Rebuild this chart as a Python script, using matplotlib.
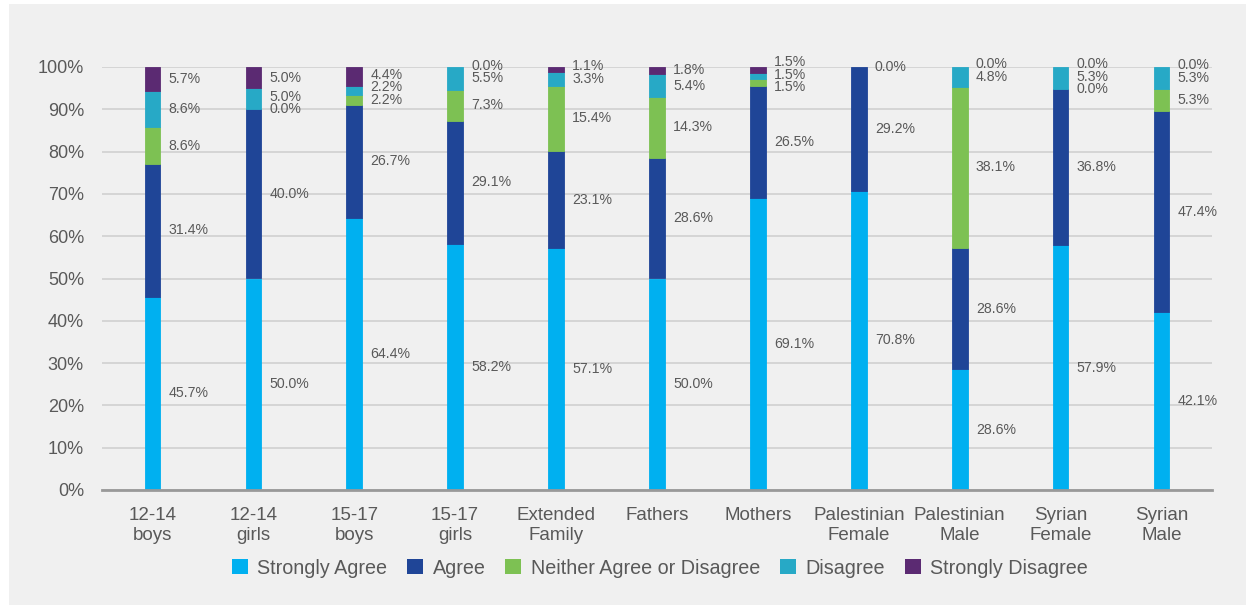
import matplotlib
matplotlib.use("Agg")
import matplotlib.pyplot as plt
from matplotlib.patches import Rectangle, Patch
import numpy as np

groups = ["12-14\nboys", "12-14\ngirls", "15-17\nboys", "15-17\ngirls", "Extended\nFamily",
          "Fathers", "Mothers", "Palestinian\nFemale", "Palestinian\nMale", "Syrian\nFemale",
          "Syrian\nMale"]
series = ["Strongly Agree", "Agree", "Neither Agree or Disagree", "Disagree", "Strongly Disagree"]
strongly_agree = [45.7, 50.0, 64.4, 58.2, 57.1, 50.0, 69.1, 70.8, 28.6, 57.9, 42.1]
agree = [31.4, 40.0, 26.7, 29.1, 23.1, 28.6, 26.5, 29.2, 28.6, 36.8, 47.4]
neither = [8.6, 0.0, 2.2, 7.3, 15.4, 14.3, 1.5, 0.0, 38.1, 0.0, 5.3]
disagree = [8.6, 5.0, 2.2, 5.5, 3.3, 5.4, 1.5, 0.0, 4.8, 5.3, 5.3]
strongly_disagree = [5.7, 5.0, 4.4, 0.0, 1.1, 1.8, 1.5, 0.0, 0.0, 0.0, 0.0]
# segments that carry no data label (group index, series index)
unlabelled = {(7, 2), (7, 3)}

colors = ["#00b0f0", "#1f4597", "#7dc153", "#27a9c6", "#5b2a72"]
txt = "#595959"

plt.rcParams["font.family"] = ["Liberation Sans", "DejaVu Sans"]

fig = plt.figure(figsize=(12.46, 6.05), dpi=100, facecolor="white")
fig.patches.append(Rectangle((9 / 1246, 0), 1, 1 - 4 / 605, transform=fig.transFigure,
                             facecolor="#f0f0f0", edgecolor="none", zorder=-10))
ax = fig.add_axes([102 / 1246, 1 - 490 / 605, 1110 / 1246, 423 / 605])
ax.set_facecolor("none")

data = np.array([strongly_agree, agree, neither, disagree, strongly_disagree])
x = np.arange(len(groups))
width = 0.155
bottom = np.zeros(len(groups))
for vals, col, name in zip(data, colors, series):
    # thin same-colour edge hides seams between segments; none on empty ones
    lw = [0.6 if v > 0 else 0 for v in vals]
    ax.bar(x, vals, width, bottom=bottom, color=col, edgecolor=col, linewidth=lw,
           label=name, zorder=3)
    bottom += vals

# value labels: start at segment centres, then push apart so they don't collide
gap, cap = 3.0, 101.2
for i in range(len(groups)):
    vals = data[:, i]
    keep = [k for k in range(len(series)) if (i, k) not in unlabelled]
    centres = np.cumsum(vals) - vals / 2
    pos = [centres[k] for k in keep]
    for j in range(1, len(pos)):
        pos[j] = max(pos[j], pos[j - 1] + gap)
    if pos[-1] > cap:
        pos[-1] = cap
        for j in range(len(pos) - 2, -1, -1):
            pos[j] = min(pos[j], pos[j + 1] - gap)
    for k, p in zip(keep, pos):
        ax.text(x[i] + 0.16, p, f"{vals[k]:.1f}%", ha="left", va="center",
                fontsize=10.2, color=txt, zorder=4)

ax.set_xlim(-0.5, len(groups) - 0.5)
ax.set_ylim(0, 100)
ax.set_yticks(np.arange(0, 101, 10))
ax.set_yticklabels([f"{v}%" for v in range(0, 101, 10)])
ax.set_xticks(x)
ax.set_xticklabels(groups, linespacing=1.25)
ax.tick_params(axis="y", length=0, pad=13, labelsize=13, labelcolor=txt)
ax.tick_params(axis="x", length=0, pad=12, labelsize=13.5, labelcolor=txt)
ax.grid(axis="y", color="#d0d0d0", linewidth=1.2, zorder=0)
for s in ["top", "right", "left"]:
    ax.spines[s].set_visible(False)
ax.spines["bottom"].set_color("#999999")
ax.spines["bottom"].set_linewidth(2)
ax.spines["bottom"].set_zorder(5)

handles = [Patch(facecolor=c, edgecolor="none") for c in colors]
fig.legend(handles, series, loc="center", bbox_to_anchor=(660 / 1246, 1 - 568 / 605),
           ncol=5, frameon=False, handlelength=0.8, handleheight=0.8, handletextpad=0.5,
           columnspacing=1.0, prop={"size": 14.2}, labelcolor=txt)

fig.savefig("out.png", dpi=100, facecolor=fig.get_facecolor())
